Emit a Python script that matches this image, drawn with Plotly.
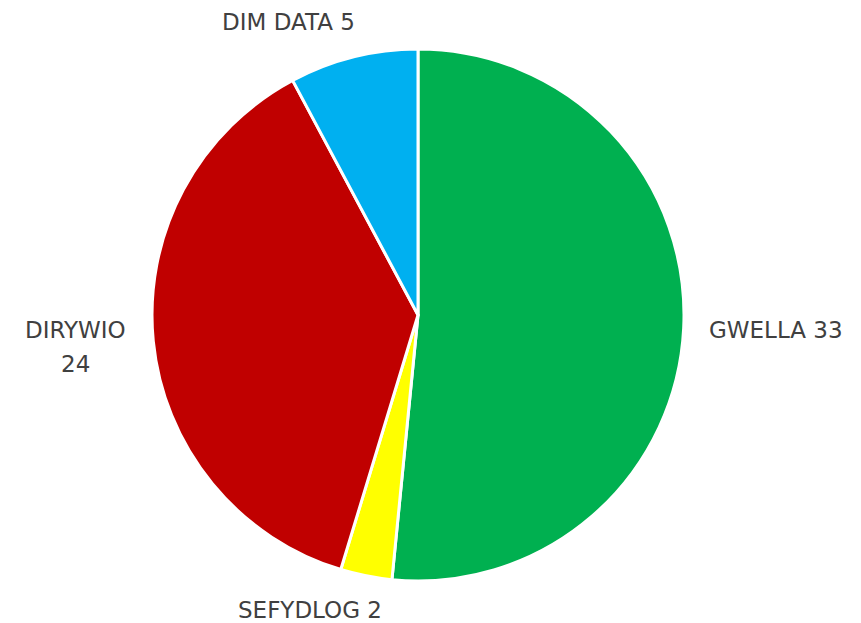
import plotly.graph_objects as go

labels = ["GWELLA", "SEFYDLOG", "DIRYWIO", "DIM DATA"]
values = [33, 2, 24, 5]
colors = ["#00B050", "#FFFF00", "#C00000", "#00B0F0"]

W, H = 861, 623
ML, MR, MT, MB = 0, 25, 49, 42
PW, PH = W - ML - MR, H - MT - MB

def px(x):
    return (x - ML) / PW

def py(y):
    return (H - MB - y) / PH

fig = go.Figure(go.Pie(
    labels=labels,
    values=values,
    marker=dict(colors=colors, line=dict(color="white", width=3)),
    sort=False,
    direction="clockwise",
    rotation=0,
    textinfo="none",
    hoverinfo="label+value",
    showlegend=False,
))

font = dict(family="DejaVu Sans, sans-serif", size=23, color="#404040")
# label positions (pixel centres) per slice
label_pos = {
    "GWELLA": [(776, 330)],
    "SEFYDLOG": [(310, 610)],
    "DIRYWIO": [(75, 330), (75, 364)],
    "DIM DATA": [(288, 22)],
}
annotations = []
for lab, val in zip(labels, values):
    pos = label_pos[lab]
    if len(pos) == 1:
        texts = [f"{lab} {val}"]
    else:
        texts = [lab, str(val)]
    for (x, y), t in zip(pos, texts):
        annotations.append(dict(
            x=px(x), y=py(y), xref="paper", yref="paper",
            text=t, showarrow=False, font=font,
            xanchor="center", yanchor="middle",
        ))

fig.update_layout(
    width=W, height=H,
    margin=dict(l=ML, r=MR, t=MT, b=MB),
    paper_bgcolor="white",
    plot_bgcolor="white",
    annotations=annotations,
)

fig.write_html(
    "out.html",
    config={"displayModeBar": False},
    post_script="document.body.style.margin='0';document.body.style.overflow='hidden';",
)
